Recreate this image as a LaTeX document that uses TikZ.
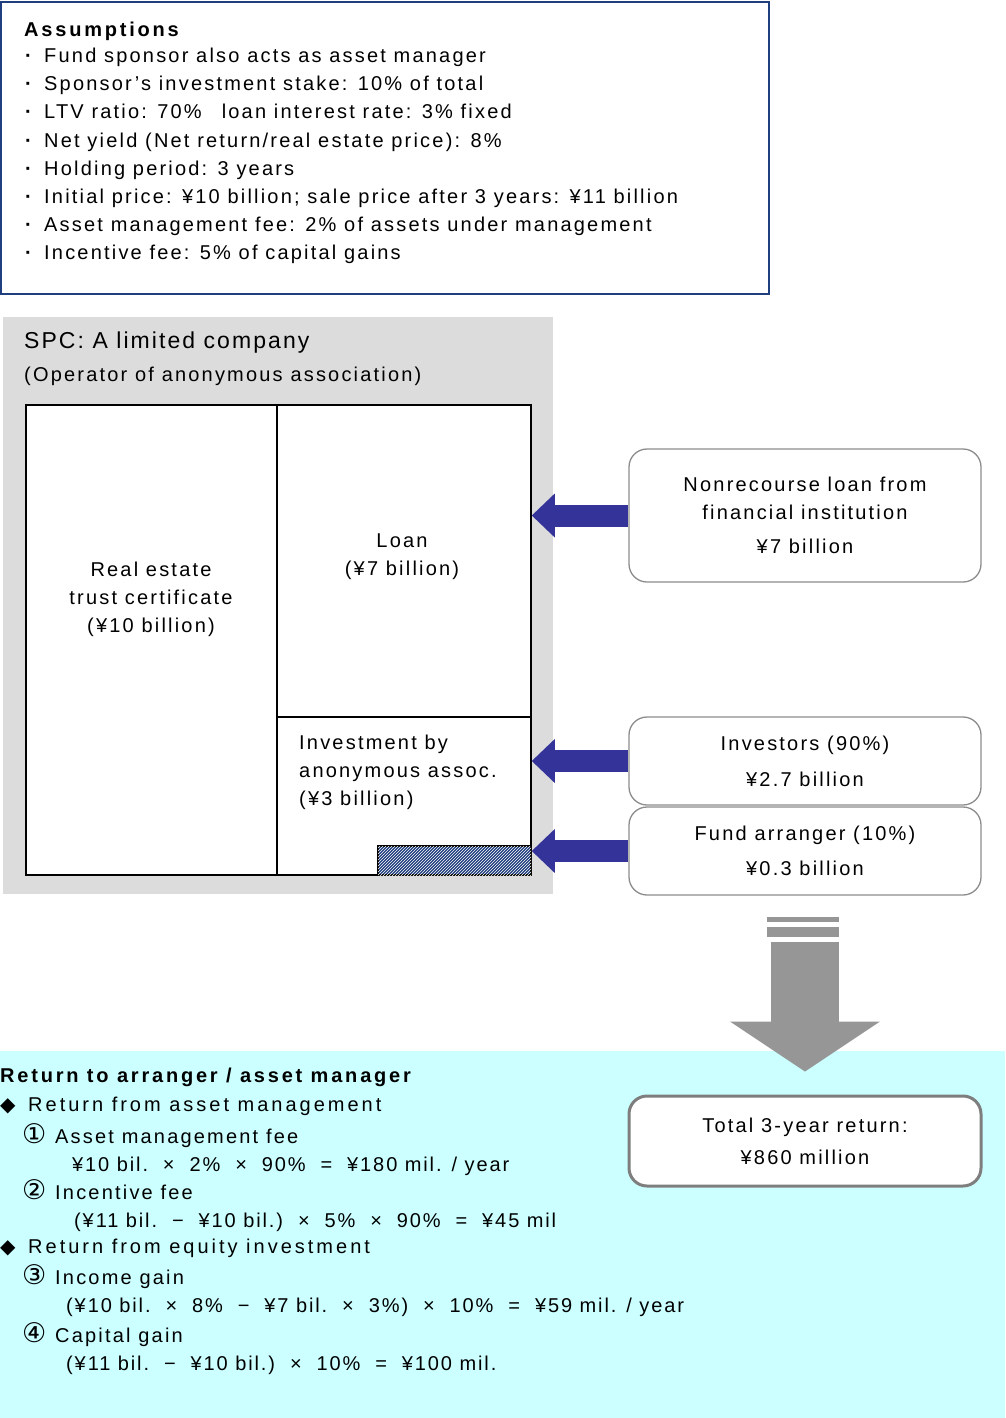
\documentclass[tikz,border=0pt]{standalone}
\usepackage{fontspec}
\setmainfont{Liberation Sans}
\newfontfamily\spacedfont[LetterSpace=11]{Liberation Sans}
\newfontfamily\itemfont[LetterSpace=15]{Liberation Sans}
\newfontfamily\titlefont[LetterSpace=9]{Liberation Sans}
\newfontfamily\headfont[LetterSpace=14]{Liberation Sans}
\newfontfamily\calcfont[LetterSpace=9.5]{Liberation Sans}
\newfontfamily\symfont{DejaVu Sans}
\usetikzlibrary{arrows.meta,positioning,patterns}
\definecolor{spcNavy}{HTML}{1f3f7f}
\definecolor{spcArrow}{HTML}{333399}
\definecolor{spcPanel}{HTML}{dcdcdc}
\definecolor{spcCyan}{HTML}{ccffff}
\definecolor{spcEdge}{HTML}{8c8c8c}
\definecolor{spcDown}{HTML}{969696}
\tikzset{
  infobox/.style={draw=spcNavy, line width=1.6pt, fill=white},
  panel/.style={fill=spcPanel, draw=none},
  sheetbox/.style={draw=black, line width=1.8pt, fill=white, inner sep=0pt},
  hatchbox/.style={draw=black, line width=1.4pt, fill=spcNavy,
              postaction={pattern=north east lines, pattern color=white}, inner sep=0pt},
  roundbox/.style={rounded corners=18pt, draw=spcEdge, line width=1.3pt, fill=white,
              minimum width=352pt, align=center, font=\bodyfont},
  totalbox/.style={roundbox, line width=3pt, draw=spcEdge!90!black},
  txt/.style={inner sep=0pt, anchor=base west, font=\bodyfont},
  ctxt/.style={inner sep=0pt, align=center, font=\bodyfont},
  headtxt/.style={txt, font=\headfont\bfseries\fontsize{20}{28}\selectfont},
  itemtxt/.style={txt, font=\itemfont\fontsize{20}{28}\selectfont},
  calctxt/.style={txt, font=\calcfont\fontsize{20}{28}\selectfont},
  fatarrow/.style={draw=spcArrow, line width=22pt,
              -{Triangle[length=23pt,width=44pt,line width=0pt]}},
  downarrow/.style={draw=spcDown, line width=68pt,
              -{Triangle[length=50pt,width=150pt,line width=0pt]}},
}
\newcommand{\bodyfont}{\spacedfont\fontsize{20}{28}\selectfont}
\newcommand{\symbox}[2]{\makebox[#1][l]{\symfont #2}}
\newcommand{\numbox}[1]{\makebox[33pt][l]{\symfont\fontsize{27}{28}\selectfont #1}}

\begin{document}
\begin{tikzpicture}[x=1pt,y=-1pt]
  \useasboundingbox (0,0) rectangle (1005,1418);
  % assumptions
  \draw[infobox] (1,2) rectangle (769,294);
  \node[headtxt] (asmhead) at (24,37) {Assumptions};
  \foreach \line [count=\i] in {
      {Fund sponsor also acts as asset manager},
      {Sponsor’s investment stake: 10\% of total},
      {LTV ratio: 70\%\quad loan interest rate: 3\% fixed},
      {Net yield (Net return/real estate price): 8\%},
      {Holding period: 3 years},
      {Initial price: ¥10 billion; sale price after 3 years: ¥11 billion},
      {Asset management fee: 2\% of assets under management},
      {Incentive fee: 5\% of capital gains}}{
    \node[txt] (asm\i) at (25,{35+28*\i}) {\makebox[19pt][l]{\textbf{·}}\line};}

  % SPC balance sheet
  \fill[panel] (3,317) rectangle (553,894);
  \node[txt, font=\titlefont\fontsize{23}{28}\selectfont] (spctitle) at (24,348) {SPC: A limited company};
  \node[txt] (spcsub) at (24,381) {(Operator of anonymous association)};
  \node[sheetbox, minimum width=505pt, minimum height=470pt, anchor=north west] (sheet) at (25,404) {};
  \draw[line width=1.6pt] (277,404) -- (277,874);
  \draw[line width=1.6pt] (277,717) -- (530,717);
  \node[hatchbox, minimum width=153pt, minimum height=29pt, anchor=south east] (stake) at (sheet.south east) {};
  \node[ctxt] (trust) at (151,599) {Real estate\\trust certificate\\(¥10 billion)};
  \node[ctxt] (loan) at (402,557) {Loan\\(¥7 billion)};
  \node[ctxt, align=left, anchor=west] (equity) at (299,772) {Investment by\\anonymous assoc.\\(¥3 billion)};

  % funding sources
  \node[roundbox, minimum height=133pt] (nrloan) at (805,515.5)
    {Nonrecourse loan from\\financial institution\\[6pt]¥7 billion};
  \node[roundbox, minimum height=88pt] (investors) at (805,761)
    {Investors (90\%)\\[8pt]¥2.7 billion};
  \node[roundbox, minimum height=88pt] (arranger) at (805,851)
    {Fund arranger (10\%)\\[7pt]¥0.3 billion};
  \draw[fatarrow] (nrloan.west) -- (nrloan.west -| sheet.east);
  \draw[fatarrow] (investors.west) -- (investors.west -| sheet.east);
  \draw[fatarrow] (arranger.west) -- (arranger.west -| sheet.east);

  % returns
  \fill[spcCyan] (0,1051) rectangle (1005,1418);
  \node[totalbox, minimum height=90pt] (total) at (805,1141)
    {Total 3-year return:\\[4pt]¥860 million};
  \fill[spcDown] (767,917) rectangle (839,922);
  \fill[spcDown] (767,927) rectangle (839,937);
  \draw[downarrow, shorten <=46pt, shorten >=23pt] (arranger.south) -- (total.north);

  \node[headtxt] (rethead) at (0,1082) {Return to arranger / asset manager};
  \node[itemtxt] (mgmt) at (0,1111) {\symbox{28pt}{◆}Return from asset management};
  \node[txt] (fee1) at (22,1143) {\numbox{①}Asset management fee};
  \node[calctxt] (calc1) at (72,1171) {¥10 bil.\ \ ×\ \ 2\%\ \ ×\ \ 90\%\ \ =\ \ ¥180 mil. / year};
  \node[txt] (fee2) at (22,1199) {\numbox{②}Incentive fee};
  \node[calctxt] (calc2) at (74,1227) {(¥11 bil.\ \ −\ \ ¥10 bil.)\ \ ×\ \ 5\%\ \ ×\ \ 90\%\ \ =\ \ ¥45 mil};
  \node[itemtxt] (equ) at (0,1253) {\symbox{28pt}{◆}Return from equity investment};
  \node[txt] (gain3) at (22,1284) {\numbox{③}Income gain};
  \node[calctxt] (calc3) at (66,1312) {(¥10 bil.\ \ ×\ \ 8\%\ \ −\ \ ¥7 bil.\ \ ×\ \ 3\%)\ \ ×\ \ 10\%\ \ =\ \ ¥59 mil. / year};
  \node[txt] (gain4) at (22,1342) {\numbox{④}Capital gain};
  \node[calctxt] (calc4) at (66,1370) {(¥11 bil.\ \ −\ \ ¥10 bil.)\ \ ×\ \ 10\%\ \ =\ \ ¥100 mil.};
\end{tikzpicture}
\end{document}
